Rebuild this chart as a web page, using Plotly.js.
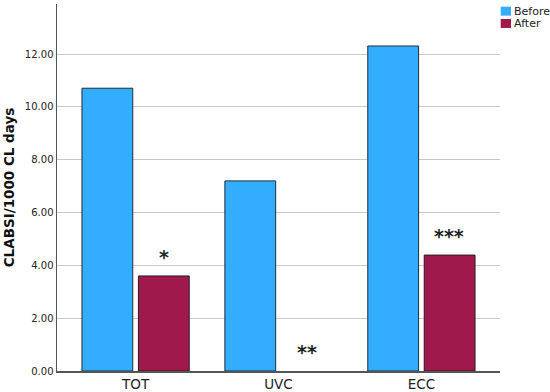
<!DOCTYPE html>
<html>
<head>
<meta charset="utf-8">
<script src="https://cdn.plot.ly/plotly-3.0.1.min.js"></script>
<style>html,body{margin:0;padding:0;background:#fff}#chart{width:550px;height:392px}</style>
</head>
<body>
<div id="chart"></div>
<script>
const categories = ["TOT", "UVC", "ECC"];
const beforeValues = [10.71, 7.2, 12.31];
const afterValues = [3.6, 0, 4.39];
const significance = ["*", "**", "***"];
const seriesNames = ["Before", "After"];
const seriesColors = ["#33adff", "#a0194d"];
const yTickValues = [0, 2, 4, 6, 8, 10, 12];
const yTickLabels = ["0.00", "2.00", "4.00", "6.00", "8.00", "10.00", "12.00"];

const font = "DejaVu Sans, Verdana, sans-serif";

const traces = [
  {
    type: "bar", name: seriesNames[0], x: categories, y: beforeValues,
    marker: {color: seriesColors[0], line: {color: "#1f2d3a", width: 1}}
  },
  {
    type: "bar", name: seriesNames[1], x: categories, y: afterValues,
    marker: {color: seriesColors[1], line: {color: "#2a1a20",
      width: afterValues.map(v => v > 0 ? 1 : 0)}}
  }
];

const annotations = categories.map((c, i) => ({
  x: c, y: afterValues[i], xref: "x", yref: "y",
  text: significance[i], showarrow: false,
  xshift: 28, yshift: 19, yanchor: "middle",
  font: {family: font, size: 19, color: "#222", weight: "bold"}
}));

// custom legend (top right, outside plot area)
const legendShapes = [];
seriesNames.forEach((name, i) => {
  const yTop = 0.9927 - i * 0.0335;
  legendShapes.push({
    type: "rect", xref: "paper", yref: "paper",
    x0: 1.0016, x1: 1.0248, y0: yTop - 0.0245, y1: yTop,
    fillcolor: seriesColors[i], line: {width: 0}
  });
  annotations.push({
    xref: "paper", yref: "paper", x: 1.028, y: yTop - 0.0122,
    xanchor: "left", yanchor: "middle", showarrow: false,
    text: name, font: {family: font, size: 11, color: "#222"}
  });
});

const layout = {
  width: 550, height: 392,
  margin: {l: 57, r: 50, t: 4, b: 21},
  paper_bgcolor: "#fff", plot_bgcolor: "#fff",
  barmode: "group", bargap: 0.21, bargroupgap: 0.1,
  showlegend: false,
  xaxis: {
    type: "category", range: [-0.55, 2.55],
    showline: true, linecolor: "#555", linewidth: 1.5,
    ticks: "", showgrid: false, zeroline: false,
    tickfont: {family: font, size: 13.5, color: "#222"}
  },
  yaxis: {
    range: [0, 13.9],
    tickvals: yTickValues, ticktext: yTickLabels,
    showline: true, linecolor: "#555", linewidth: 1.5,
    ticks: "", showgrid: true, gridcolor: "#c8c8c8", gridwidth: 1,
    zeroline: false,
    tickfont: {family: font, size: 10, color: "#222"},
    title: {text: "CLABSI/1000 CL days", standoff: 7,
      font: {family: font, size: 13.5, color: "#111", weight: "bold"}}
  },
  shapes: legendShapes,
  annotations: annotations
};

Plotly.newPlot("chart", traces, layout, {displayModeBar: false, staticPlot: true});
</script>
</body>
</html>
